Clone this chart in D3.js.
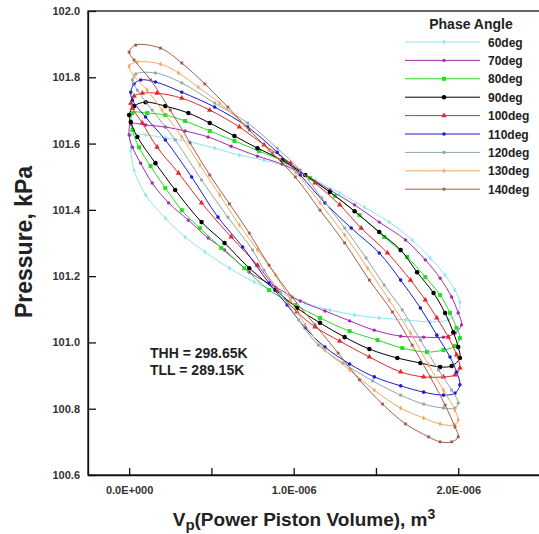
<!DOCTYPE html>
<html>
<head>
<meta charset="utf-8">
<script src="https://cdn.jsdelivr.net/npm/d3@7"></script>
<style>
  body { margin: 0; background: #fff; }
  text { font-family: "Liberation Sans", Arial, sans-serif; }
</style>
</head>
<body>
<script>
// volume in units of 1e-6 m3, pressure in kPa
var phaseLabels = ['60deg', '70deg', '80deg', '90deg', '100deg', '110deg', '120deg', '130deg', '140deg'];
var yTicks = [100.6, 100.8, 101.0, 101.2, 101.4, 101.6, 101.8, 102.0];
var xTicks = [0, 0.5, 1, 1.5, 2];
var xTickLabels = ['0.0E+000', '', '1.0E-006', '', '2.0E-006'];
var notes = ['THH = 298.65K', 'TLL = 289.15K'];

var loop60 = [[0.01,101.626],[0.10,101.626],[0.22,101.617],[0.37,101.605],[0.52,101.586],[0.67,101.565],[0.82,101.550],[0.98,101.526],[1.13,101.490],[1.28,101.451],[1.43,101.408],[1.58,101.363],[1.72,101.309],[1.83,101.255],[1.92,101.203],[1.98,101.158],[2.01,101.122],[2.00,101.092],[1.94,101.068],[1.83,101.062],[1.68,101.068],[1.52,101.074],[1.37,101.083],[1.22,101.098],[1.07,101.119],[0.92,101.149],[0.76,101.182],[0.61,101.224],[0.46,101.273],[0.34,101.318],[0.22,101.375],[0.10,101.445],[0.03,101.520],[0.01,101.580]];
var loop70 = [[0.01,101.659],[0.10,101.656],[0.22,101.650],[0.34,101.638],[0.48,101.620],[0.62,101.592],[0.78,101.562],[0.93,101.538],[1.07,101.505],[1.22,101.460],[1.37,101.415],[1.52,101.363],[1.68,101.309],[1.80,101.249],[1.89,101.194],[1.96,101.137],[2.00,101.089],[2.02,101.053],[1.98,101.028],[1.91,101.016],[1.79,101.016],[1.65,101.019],[1.49,101.037],[1.34,101.065],[1.19,101.095],[1.04,101.125],[0.89,101.167],[0.73,101.212],[0.58,101.279],[0.48,101.315],[0.36,101.369],[0.24,101.421],[0.14,101.481],[0.07,101.541],[0.02,101.589],[0.00,101.626]];
var loop80 = [[0.02,101.692],[0.11,101.692],[0.22,101.686],[0.34,101.668],[0.49,101.638],[0.64,101.608],[0.79,101.577],[0.95,101.544],[1.10,101.496],[1.25,101.442],[1.40,101.384],[1.55,101.318],[1.69,101.258],[1.80,101.197],[1.89,101.143],[1.95,101.089],[1.99,101.044],[2.01,101.013],[1.98,100.989],[1.91,100.977],[1.81,100.971],[1.66,100.983],[1.51,101.007],[1.34,101.034],[1.16,101.074],[1.01,101.113],[0.85,101.158],[0.70,101.224],[0.56,101.285],[0.43,101.345],[0.32,101.399],[0.22,101.466],[0.13,101.532],[0.06,101.589],[0.02,101.641]];
var loop90 = [[0.00,101.686],[0.03,101.713],[0.10,101.725],[0.22,101.713],[0.36,101.692],[0.49,101.662],[0.64,101.623],[0.78,101.586],[0.93,101.550],[1.07,101.505],[1.22,101.454],[1.37,101.396],[1.52,101.333],[1.65,101.279],[1.75,101.212],[1.85,101.149],[1.92,101.089],[1.97,101.031],[2.00,100.986],[2.01,100.953],[1.96,100.929],[1.89,100.926],[1.77,100.938],[1.63,100.953],[1.46,100.980],[1.31,101.016],[1.16,101.059],[1.02,101.104],[0.89,101.158],[0.73,101.224],[0.58,101.300],[0.44,101.363],[0.28,101.460],[0.16,101.541],[0.05,101.620],[0.01,101.665]];
var loop100 = [[0.01,101.722],[0.03,101.743],[0.08,101.752],[0.17,101.752],[0.32,101.737],[0.49,101.701],[0.67,101.650],[0.82,101.596],[0.98,101.541],[1.13,101.481],[1.28,101.415],[1.41,101.345],[1.57,101.270],[1.71,101.188],[1.80,101.128],[1.87,101.074],[1.94,101.016],[1.99,100.962],[2.01,100.923],[1.98,100.902],[1.91,100.896],[1.79,100.896],[1.65,100.911],[1.46,100.956],[1.28,101.004],[1.13,101.047],[1.02,101.092],[0.90,101.158],[0.78,101.233],[0.62,101.318],[0.44,101.421],[0.30,101.511],[0.17,101.589],[0.08,101.662],[0.02,101.707]];
var loop110 = [[0.01,101.755],[0.03,101.780],[0.07,101.792],[0.16,101.786],[0.32,101.755],[0.52,101.710],[0.72,101.650],[0.90,101.574],[1.04,101.505],[1.19,101.421],[1.35,101.345],[1.52,101.270],[1.65,101.188],[1.77,101.104],[1.87,101.022],[1.95,100.956],[1.99,100.911],[2.01,100.872],[1.98,100.847],[1.91,100.841],[1.79,100.850],[1.65,100.869],[1.49,100.896],[1.34,100.935],[1.19,100.986],[1.07,101.044],[0.96,101.113],[0.85,101.179],[0.69,101.288],[0.54,101.378],[0.38,101.499],[0.22,101.611],[0.10,101.680],[0.02,101.731]];
var loop120 = [[0.02,101.792],[0.04,101.810],[0.16,101.813],[0.32,101.783],[0.52,101.722],[0.72,101.662],[0.90,101.586],[1.04,101.520],[1.17,101.436],[1.31,101.345],[1.44,101.255],[1.55,101.173],[1.66,101.098],[1.77,101.007],[1.88,100.917],[1.96,100.856],[2.00,100.817],[1.98,100.802],[1.91,100.802],[1.79,100.814],[1.65,100.841],[1.48,100.884],[1.30,100.938],[1.15,100.992],[1.03,101.068],[0.92,101.149],[0.82,101.218],[0.75,101.279],[0.60,101.378],[0.44,101.490],[0.28,101.611],[0.14,101.701],[0.05,101.761]];
var loop130 = [[0.00,101.834],[0.05,101.846],[0.19,101.840],[0.30,101.813],[0.42,101.770],[0.55,101.722],[0.70,101.656],[0.85,101.580],[1.01,101.514],[1.16,101.421],[1.31,101.324],[1.45,101.224],[1.58,101.128],[1.71,101.028],[1.82,100.932],[1.91,100.856],[1.98,100.796],[2.00,100.766],[1.98,100.751],[1.89,100.754],[1.79,100.772],[1.65,100.802],[1.49,100.856],[1.34,100.917],[1.19,100.977],[1.07,101.053],[0.98,101.128],[0.89,101.203],[0.78,101.279],[0.67,101.354],[0.55,101.445],[0.43,101.535],[0.32,101.620],[0.20,101.701],[0.11,101.761],[0.03,101.804]];
var loop140 = [[0.00,101.876],[0.04,101.897],[0.19,101.888],[0.32,101.843],[0.46,101.780],[0.60,101.710],[0.73,101.641],[0.87,101.571],[1.01,101.499],[1.16,101.399],[1.31,101.300],[1.46,101.188],[1.60,101.092],[1.72,100.992],[1.83,100.896],[1.92,100.811],[1.98,100.745],[2.00,100.715],[1.96,100.700],[1.89,100.700],[1.82,100.715],[1.68,100.754],[1.54,100.814],[1.40,100.887],[1.27,100.968],[1.13,101.053],[0.99,101.137],[0.85,101.233],[0.73,101.330],[0.61,101.418],[0.49,101.505],[0.37,101.602],[0.25,101.701],[0.13,101.792],[0.03,101.852]];
var loops = [loop60, loop70, loop80, loop90, loop100, loop110, loop120, loop130, loop140];

// styles per series
var colors = ['#8ee6ee', '#a82ca8', '#22dd22', '#000000', '#e02828', '#1c1cd2', '#8fa6a6', '#f2a862', '#a35e4a'];
var symbols = [d3.symbolDiamond, d3.symbolCircle, d3.symbolSquare, d3.symbolCircle, d3.symbolTriangle, d3.symbolCircle, d3.symbolSquare, d3.symbolDiamond, d3.symbolSquare];
var symbolSizes = [8, 9, 16, 16, 13, 10, 8, 8, 8];

var width = 539, height = 534;
var plot = { left: 88, top: 11, right: 540.5, bottom: 475 };

var svg = d3.select('body').append('svg')
  .attr('width', width).attr('height', height);

var x = d3.scaleLinear().domain([-0.25, 2.5]).range([plot.left, plot.right]);
var y = d3.scaleLinear().domain([100.6, 102.0]).range([plot.bottom, plot.top]);

// frame
svg.append('rect')
  .attr('x', plot.left).attr('y', plot.top)
  .attr('width', plot.right - plot.left).attr('height', plot.bottom - plot.top)
  .attr('fill', 'none').attr('stroke', '#111').attr('stroke-width', 1.3);

var yAxis = d3.axisLeft(y).tickValues(yTicks).tickFormat(d3.format('.1f'))
  .tickSizeInner(-8).tickSizeOuter(0).tickPadding(8);
var xAxis = d3.axisBottom(x).tickValues(xTicks).tickFormat(function (d, i) { return xTickLabels[i]; })
  .tickSizeInner(-7).tickSizeOuter(0).tickPadding(11);

var gy = svg.append('g').attr('transform', 'translate(' + plot.left + ',0)').call(yAxis);
var gx = svg.append('g').attr('transform', 'translate(0,' + plot.bottom + ')').call(xAxis);
[gx, gy].forEach(function (g) {
  g.select('.domain').attr('stroke', '#111').attr('stroke-width', 1.3);
  g.selectAll('.tick line').attr('stroke', '#111').attr('stroke-width', 1.3);
  g.selectAll('.tick text').attr('fill', '#333').style('font-weight', 'bold')
    .style('font-family', '"Liberation Sans", Arial, sans-serif')
    .style('font-size', '11px');
});

// axis titles
svg.append('text')
  .attr('transform', 'translate(32,242) rotate(-90)')
  .attr('text-anchor', 'middle')
  .style('font-size', '23px').style('font-weight', 'bold').attr('fill', '#222')
  .text('Pressure, kPa');
var xt = svg.append('text')
  .attr('x', 304).attr('y', 526)
  .attr('text-anchor', 'middle')
  .style('font-size', '19px').style('font-weight', 'bold').attr('fill', '#222');
xt.append('tspan').text('V');
xt.append('tspan').attr('dy', 4).style('font-size', '15px').text('p');
xt.append('tspan').attr('dy', -4).text('(Power Piston Volume), m');
xt.append('tspan').attr('dy', -7).style('font-size', '14px').text('3');

// loops
var line = d3.line()
  .x(function (d) { return x(d[0]); })
  .y(function (d) { return y(d[1]); })
  .curve(d3.curveCatmullRomClosed.alpha(0.5));

loops.forEach(function (data, i) {
  var g = svg.append('g');
  g.append('path').datum(data)
    .attr('d', line)
    .attr('fill', 'none').attr('stroke', colors[i]).attr('stroke-width', 1);
  g.selectAll('path.pt').data(data).enter().append('path')
    .attr('class', 'pt')
    .attr('transform', function (d) { return 'translate(' + x(d[0]) + ',' + y(d[1]) + ')'; })
    .attr('d', d3.symbol().type(symbols[i]).size(symbolSizes[i]))
    .attr('fill', colors[i]);
});

// legend
var legend = svg.append('g').attr('transform', 'translate(405,0)');
legend.append('text').attr('x', 66).attr('y', 29).attr('text-anchor', 'middle')
  .style('font-size', '14px').style('font-weight', 'bold').attr('fill', '#222')
  .text('Phase Angle');
phaseLabels.forEach(function (label, i) {
  var yy = 42 + i * 18.4;
  var row = legend.append('g').attr('transform', 'translate(0,' + yy + ')');
  row.append('line').attr('x1', 0).attr('x2', 75).attr('stroke', colors[i]).attr('stroke-width', 1);
  row.append('path').attr('transform', 'translate(39,0)')
    .attr('d', d3.symbol().type(symbols[i]).size(symbolSizes[i]))
    .attr('fill', colors[i]);
  row.append('text').attr('x', 83).attr('y', 4.5)
    .style('font-size', '12px').style('font-weight', 'bold').attr('fill', '#222')
    .text(label);
});

// temperature notes
notes.forEach(function (t, i) {
  svg.append('text').attr('x', 150).attr('y', 358 + i * 17)
    .style('font-size', '14px').style('font-weight', 'bold').attr('fill', '#222')
    .text(t);
});
</script>
</body>
</html>
